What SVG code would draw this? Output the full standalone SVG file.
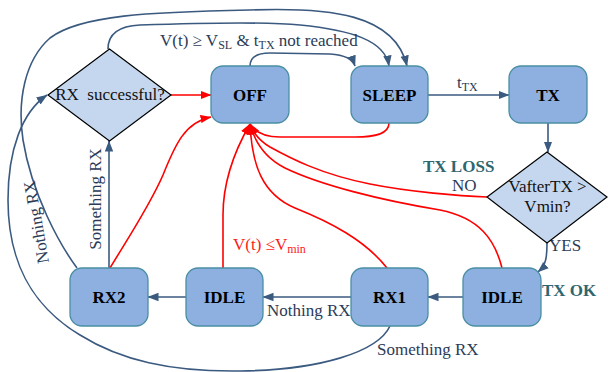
<svg xmlns="http://www.w3.org/2000/svg" width="608" height="372" viewBox="0 0 608 372">
<style>
.box{fill:#8DB0E1;stroke:#4A8EA3;stroke-width:1.3}
.dia{fill:#C5D7EE;stroke:#000;stroke-width:1.2}
.nt{font-family:"Liberation Serif","Times New Roman",serif;font-weight:bold;font-size:17px;fill:#000;text-anchor:middle}
.dt{font-family:"Liberation Serif","Times New Roman",serif;font-size:17px;fill:#111;text-anchor:middle}
.lb{font-family:"Liberation Serif","Times New Roman",serif;font-size:17px;fill:#2B3B57}
.tl{font-family:"Liberation Serif","Times New Roman",serif;font-size:17px;font-weight:bold;fill:#2E6670}
.rl{font-family:"Liberation Serif","Times New Roman",serif;font-size:17px;fill:#FF1A1A}
.b{fill:none;stroke:#3B5A80;stroke-width:1.6}
.r{fill:none;stroke:#FF0000;stroke-width:1.6}
</style>
<defs>
<marker id="ab" viewBox="0 0 11 10" refX="10.5" refY="5" markerWidth="11" markerHeight="10" orient="auto" markerUnits="userSpaceOnUse"><path d="M0,0.8 L11,5 L0,9.2 z" fill="#3B5A80"/></marker>
<marker id="ar" viewBox="0 0 11 10" refX="10.5" refY="5" markerWidth="11" markerHeight="10" orient="auto" markerUnits="userSpaceOnUse"><path d="M0,0.8 L11,5 L0,9.2 z" fill="#FF0000"/></marker>
</defs>

<g id="connectors">
<path class="b" d="M77,268 C60,245 32,195 23,140 C17,100 25,60 50,38 C80,15 150,12 250,10 C330,7 395,14 407,66" marker-end="url(#ab)"/>
<path class="b" d="M108,49 C108,35 118,26 140,25 C200,23 270,22 300,25 C350,30 385,40 389,66" marker-end="url(#ab)"/>
<path class="b" d="M250,66 C250,57 258,53 270,53 L330,54 C345,55 353,60 355,66" marker-end="url(#ab)"/>
<path class="b" d="M428,95 L509,95" marker-end="url(#ab)"/>
<path class="b" d="M548,123 L548,152" marker-end="url(#ab)"/>
<path class="b" d="M547,243 C547,258 546,265 538,272" marker-end="url(#ab)"/>
<path class="b" d="M463,297 L428,297" marker-end="url(#ab)"/>
<path class="b" d="M351,297 L263,297" marker-end="url(#ab)"/>
<path class="b" d="M186,297 L148,297" marker-end="url(#ab)"/>
<path class="b" d="M109,268 L109,141" marker-end="url(#ab)"/>
<path class="b" d="M390,326 C378,352 320,370 240,371 C170,372 120,360 80,335 C30,305 8,260 8,200 C8,150 22,112 47,95" marker-end="url(#ab)"/>
<path class="r" d="M171,95 L211,95" marker-end="url(#ar)"/>
<path class="r" d="M110,268 C130,235 150,205 163,175 C175,145 185,122 211,117" marker-end="url(#ar)"/>
<path class="r" d="M389,123 C389,134 375,137 355,137 L280,137 C265,137 255,132 250,124" marker-end="url(#ar)"/>
<path class="r" d="M487,197 C460,196 410,192 370,184 C320,174 290,158 270,147 C258,140 253,132 250,124" marker-end="url(#ar)"/>
<path class="r" d="M502,268 C495,240 480,218 440,210 C380,200 320,185 285,168 C265,158 255,143 250,124" marker-end="url(#ar)"/>
<path class="r" d="M387,268 C365,240 330,222 295,208 C262,194 252,165 250,124" marker-end="url(#ar)"/>
<path class="r" d="M223,268 L223,215 C223,180 235,150 250,124" marker-end="url(#ar)"/>
<text class="lb" x="160" y="46">V(t) ≥ V<tspan font-size="12" dy="3">SL</tspan><tspan dy="-3"> &amp; t</tspan><tspan font-size="12" dy="3">TX</tspan><tspan dy="-3"> not reached</tspan></text>
<text class="lb" x="457" y="88">t<tspan font-size="12" dy="3">TX</tspan></text>
<text class="tl" x="423" y="172">TX LOSS</text>
<text class="lb" x="452" y="191">NO</text>
<text class="lb" x="549" y="251" font-size="16">YES</text>
<text class="tl" x="542" y="296">TX OK</text>
<text class="rl" x="233" y="250">V(t) ≤V<tspan font-size="12" dy="3">min</tspan></text>
<text class="lb" x="267" y="316">Nothing RX</text>
<text class="lb" x="377" y="355">Something RX</text>
<text class="lb" text-anchor="middle" dy="0.35em" transform="translate(95,199) rotate(-90)">Something RX</text>
<text class="lb" text-anchor="middle" dy="0.35em" transform="translate(36,222) rotate(-100)">Nothing RX</text>
</g>

<g id="rx_successful">
<polygon class="dia" points="109.5,49 171,95 109.5,141 48,95"/>
<text class="dt" x="110" y="100">RX&#160; successful?</text>
</g>
<g id="off"><rect class="box" x="211" y="66" width="78" height="57" rx="12"/><text class="nt" x="250" y="100.5">OFF</text></g>
<g id="sleep"><rect class="box" x="351" y="66" width="77" height="57" rx="12"/><text class="nt" x="389.5" y="100.5">SLEEP</text></g>
<g id="tx"><rect class="box" x="509" y="66" width="78" height="57" rx="12"/><text class="nt" x="548" y="100.5">TX</text></g>
<g id="vafter">
<polygon class="dia" points="547,152 607,197 547,243 487,197"/>
<text class="dt" x="547.5" y="192">VafterTX &gt;</text>
<text class="dt" x="547.5" y="212">Vmin?</text>
</g>
<g id="idle_right"><rect class="box" x="463" y="268" width="78" height="58" rx="12"/><text class="nt" x="502" y="303">IDLE</text></g>
<g id="rx1"><rect class="box" x="351" y="268" width="77" height="58" rx="12"/><text class="nt" x="389.5" y="303">RX1</text></g>
<g id="idle_left"><rect class="box" x="186" y="268" width="77" height="58" rx="12"/><text class="nt" x="224.5" y="303">IDLE</text></g>
<g id="rx2"><rect class="box" x="70" y="268" width="78" height="58" rx="12"/><text class="nt" x="109" y="303">RX2</text></g>
</svg>
